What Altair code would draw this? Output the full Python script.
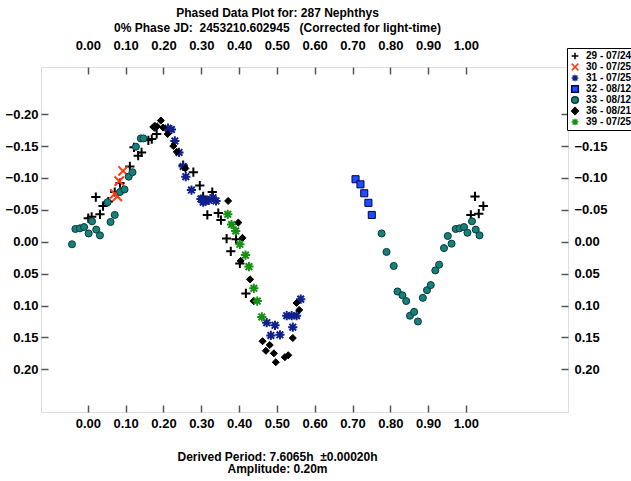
import altair as alt
import pandas as pd

FONT = "Liberation Sans"
NB = "\u00a0"

series_names = ["29 - 07/24", "30 - 07/25", "31 - 07/25", "32 - 08/12",
                "33 - 08/12", "36 - 08/21", "39 - 07/25"]

# phase / reduced magnitude pairs per session
phase_29 = [0.001, 0.010, 0.021, 0.032, 0.040, 0.054, 0.071, 0.085, 0.111, 0.122,
            0.133, 0.142, 0.160, 0.169, 0.182, 0.177,
            0.252, 0.279, 0.296, 0.329, 0.305, 0.316, 0.345, 0.352, 0.367, 0.392,
            0.378, 0.402, 0.418,
            1.013, 1.024, 1.034, 1.046]
mag_29 = [-0.037, -0.039, -0.070, -0.043, -0.056, -0.063, -0.078, -0.092, -0.118, -0.148,
          -0.135, -0.140, -0.159, -0.161, -0.169, -0.180,
          -0.120, -0.109, -0.088, -0.078, -0.071, -0.042, -0.045, -0.034, -0.005, -0.004,
          0.015, 0.034, 0.081,
          -0.042, -0.071, -0.044, -0.056]

phase_30 = [0.093, 0.083, 0.071, 0.078]
mag_30 = [-0.111, -0.095, -0.075, -0.071]

phase_31 = [0.212, 0.221, 0.230, 0.241, 0.252, 0.259, 0.274, 0.299, 0.305, 0.310,
            0.320, 0.331, 0.339,
            0.563, 0.526, 0.539, 0.552, 0.473, 0.495, 0.542, 0.484, 0.508]
mag_31 = [-0.178, -0.176, -0.158, -0.140, -0.118, -0.102, -0.081, -0.067, -0.062, -0.064,
          -0.065, -0.069, -0.064,
          0.090, 0.116, 0.116, 0.116, 0.127, 0.131, 0.134, 0.147, 0.146]

phase_32 = [0.708, 0.721, 0.731, 0.742, 0.751]
mag_32 = [-0.098, -0.090, -0.076, -0.061, -0.042]

phase_33 = [-0.042, -0.033, -0.021, -0.010, 0.002, 0.011, 0.022, 0.032, 0.052, 0.060,
            0.071, 0.085, 0.097, 0.108, 0.118, 0.127, 0.140, 0.147,
            0.777, 0.790, 0.809, 0.819, 0.832, 0.842, 0.852, 0.863, 0.873, 0.886,
            0.897, 0.907, 0.919, 0.929, 0.942, 0.952, 0.962, 0.973, 0.983, 0.995,
            1.004, 1.016, 1.026, 1.036]
mag_33 = [0.004, -0.020, -0.021, -0.023, -0.013, -0.032, -0.019, -0.010, -0.062, -0.031,
          -0.042, -0.078, -0.082, -0.102, -0.109, -0.149, -0.162, -0.162,
          -0.013, 0.016, 0.038, 0.078, 0.084, 0.093, 0.116, 0.110, 0.125, 0.088,
          0.076, 0.068, 0.045, 0.036, 0.010, -0.009, 0.003, -0.020, -0.021, -0.023,
          -0.014, -0.032, -0.019, -0.010]

phase_36 = [0.173, 0.183, 0.193, 0.199, 0.211, 0.226, 0.235, 0.258,
            0.371, 0.398, 0.409, 0.404, 0.429, 0.438, 0.552, 0.559, 0.542, 0.462,
            0.481, 0.471, 0.492, 0.521, 0.530, 0.497]
mag_36 = [-0.180, -0.181, -0.190, -0.179, -0.169, -0.150, -0.141, -0.115,
          -0.064, -0.030, -0.006, 0.030, 0.059, 0.093, 0.096, 0.107, 0.151, 0.156,
          0.162, 0.171, 0.175, 0.181, 0.178, 0.189]

phase_39 = [0.370, 0.380, 0.391, 0.402, 0.417, 0.426, 0.439, 0.448, 0.460]
mag_39 = [-0.043, -0.027, -0.017, 0.004, 0.021, 0.039, 0.073, 0.093, 0.118]

x_ticks = [0.0, 0.1, 0.2, 0.3, 0.4, 0.5, 0.6, 0.7, 0.8, 0.9, 1.0]
y_ticks = [-0.20, -0.15, -0.10, -0.05, 0.0, 0.05, 0.10, 0.15, 0.20]

phases = [phase_29, phase_30, phase_31, phase_32, phase_33, phase_36, phase_39]
mags = [mag_29, mag_30, mag_31, mag_32, mag_33, mag_36, mag_39]
rows = []
for name, ph, mg in zip(series_names, phases, mags):
    for p, m in zip(ph, mg):
        rows.append({"session": name, "phase": p, "mag": m})
df = pd.DataFrame(rows)

# marker styling per session
PLUS = "M-1,0L1,0M0,-1L0,1"
XMARK = "M-1,-1L1,1M-1,1L1,-1"
STAR = "M-1,0L1,0M0,-1L0,1M-0.72,-0.72L0.72,0.72M-0.72,0.72L0.72,-0.72"
shapes = [PLUS, XMARK, STAR, "square", "circle", "diamond", STAR]
fills = ["#000000", "#ff3a10", "#10208c", "#1f4cff", "#16807a", "#000000", "#159015"]
strokes = ["#000000", "#ff3a10", "#10208c", "#000050", "#0b3a3a", "#000000", "#159015"]
stroked_sessions = ["29 - 07/24", "30 - 07/25", "31 - 07/25", "39 - 07/25"]
is_stroked = alt.FieldOneOfPredicate(field="session", oneOf=stroked_sessions)

legend = alt.Legend(orient="none", legendX=526, legendY=-19, title=None,
                    strokeColor="#000000", fillColor="#ffffff",
                    padding=3, rowPadding=1, clipHeight=10,
                    symbolSize=45, symbolStrokeWidth=1.5,
                    labelFont=FONT, labelFontSize=10, labelFontWeight="bold",
                    labelColor="#000000", labelOffset=6)

x_scale = alt.Scale(domain=[-0.124, 1.270], nice=False, zero=False)
y_scale = alt.Scale(domain=[-0.274, 0.267], reverse=True, nice=False, zero=False)

axis_common = dict(format=".2f", domain=False, grid=False,
                   tickSize=7, offset=-7, tickColor="#555555", tickWidth=1.5,
                   labelFont=FONT, labelFontSize=13, labelFontWeight="bold",
                   labelColor="#000000", labelOverlap=False, labelFlush=False)


def axis(orient, vals, **kw):
    opts = dict(axis_common)
    opts["values"] = vals
    opts.update(kw)
    return alt.Axis(orient=orient, **opts)


points = alt.Chart(df).mark_point(filled=True, opacity=1).encode(
    x=alt.X("phase:Q", scale=x_scale,
            axis=axis("bottom", x_ticks, labelPadding=5,
                      title=["Derived Period: 7.6065h" + NB + NB + "\u00b10.00020h",
                             "Amplitude: 0.20m"],
                      titleFont=FONT, titleFontSize=12, titleFontWeight="bold",
                      titleColor="#000000", titleAlign="center", titleBaseline="alphabetic",
                      titleX=236, titleY=55, titleLineHeight=12.5)),
    y=alt.Y("mag:Q", scale=y_scale, axis=axis("left", y_ticks, labelPadding=3, title=None)),
    shape=alt.Shape("session:N", scale=alt.Scale(domain=series_names, range=shapes), legend=legend),
    fill=alt.Fill("session:N", scale=alt.Scale(domain=series_names, range=fills), legend=legend),
    stroke=alt.Stroke("session:N", scale=alt.Scale(domain=series_names, range=strokes), legend=legend),
    size=alt.condition(is_stroked, alt.value(85), alt.value(50)),
    strokeWidth=alt.condition(is_stroked, alt.value(2.0), alt.value(1.0)),
)

# second copy carries the top and right axes
frame_axes = alt.Chart(df).mark_point(opacity=0).encode(
    x=alt.X("phase:Q", scale=x_scale, axis=axis("top", x_ticks, labelPadding=15, title=None)),
    y=alt.Y("mag:Q", scale=y_scale, axis=axis("right", y_ticks, labelPadding=6, title=None)),
)

chart = alt.layer(points, frame_axes).resolve_axis(
    x="independent", y="independent"
).properties(
    width=527,
    height=345,
    autosize=alt.AutoSizeParams(type="none"),
    padding={"left": 41, "top": 67, "right": 63, "bottom": 69},
    title=alt.TitleParams(
        text=["Phased Data Plot for: 287 Nephthys",
              "0% Phase JD:" + NB + NB + "2453210.602945" + NB + NB + NB + "(Corrected for light-time)"],
        font=FONT, fontSize=12, fontWeight="bold", color="#000000",
        anchor="middle", dx=-27, offset=4, frame="group", lineHeight=15,
    ),
).configure_view(
    stroke="#555555", strokeWidth=2
).configure(background="white")

chart.save("out.html", embed_options={"renderer": "svg", "actions": False})
